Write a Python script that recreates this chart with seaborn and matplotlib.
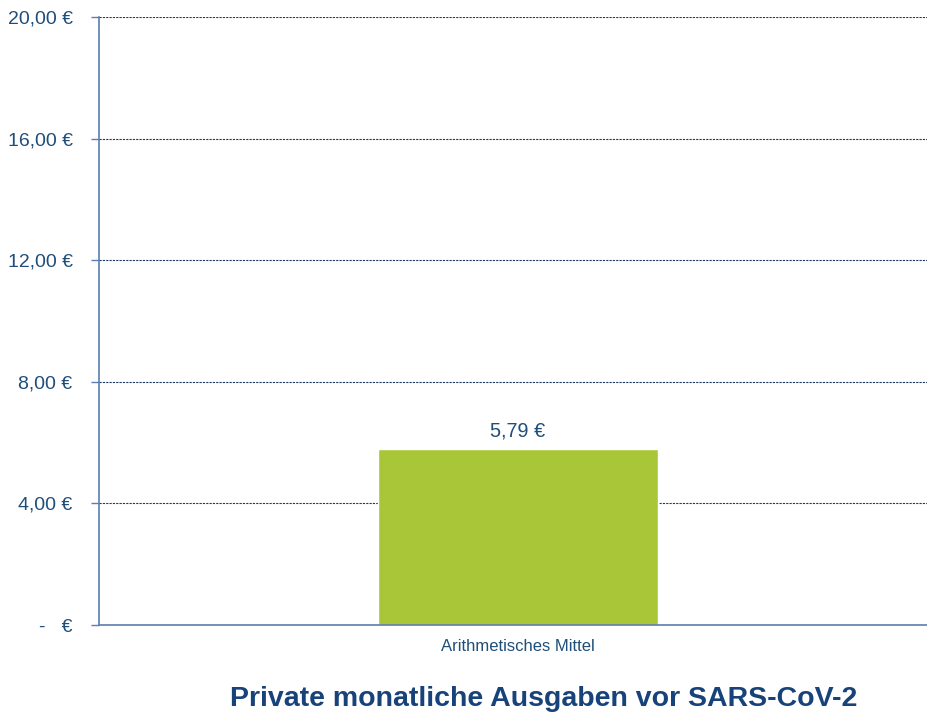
import matplotlib
matplotlib.use("Agg")
import matplotlib.pyplot as plt
import seaborn as sns
import pandas as pd

categories = ["Arithmetisches Mittel"]
values = [5.79]
value_labels = ["5,79 €"]
yticks = [0, 4, 8, 12, 16, 20]
ytick_labels = ["-   €", "4,00 €", "8,00 €", "12,00 €", "16,00 €", "20,00 €"]
title = "Private monatliche Ausgaben vor SARS-CoV-2"

sns.set_theme(style="white")
plt.rcParams['font.family'] = ['Liberation Sans', 'DejaVu Sans']

text_color = "#1F4E79"
spine_color = "#5B7FAE"
bar_color = "#A9C638"

df = pd.DataFrame({"cat": categories, "val": values})

fig = plt.figure(figsize=(9.28, 7.17), dpi=100)
ax = fig.add_axes([99/928, 1 - 625/717, (937 - 99)/928, (625 - 17)/717])

sns.barplot(data=df, x="cat", y="val", color=bar_color, width=0.334,
            saturation=1, ax=ax, zorder=3)
ax.set_xlim(-0.5, 0.5)
ax.set_ylim(0, 20)
ax.set_yticks(yticks)
ax.set_yticklabels(ytick_labels, fontsize=14, color=text_color)
ax.tick_params(axis="y", length=6, width=1, color=spine_color, pad=13, left=True)
ax.tick_params(axis="x", length=0, pad=10, labelsize=12, labelcolor=text_color)
ax.set_xlabel("")
ax.set_ylabel("")

for t in yticks[1:]:
    ax.axhline(t, color="#1F3864", linestyle=(0, (2, 1)), linewidth=0.8, zorder=1)

for s in ["top", "right"]:
    ax.spines[s].set_visible(False)
for s in ["left", "bottom"]:
    ax.spines[s].set_color(spine_color)
    ax.spines[s].set_linewidth(1.2)
    ax.spines[s].set_zorder(4)

for cont in ax.containers:
    ax.bar_label(cont, labels=value_labels, padding=6, fontsize=14.3, color=text_color)

fig.text(543.5/928, 1 - 699/717, title, ha="center", va="center",
         fontsize=20.5, fontweight="bold", color="#17427A")

fig.savefig("out.png", dpi=100)
